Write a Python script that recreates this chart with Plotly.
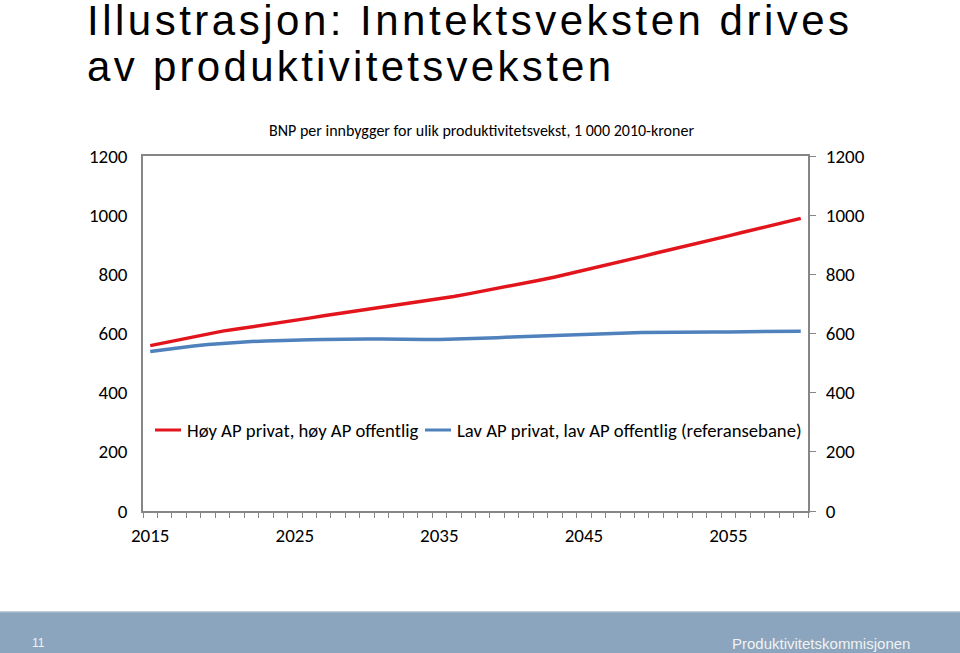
import plotly.graph_objects as go

years = list(range(2015, 2061))
high_ap = [559, 569, 579, 589, 599, 608, 615, 622, 630, 637,
           645, 652, 660, 667, 675, 682, 689, 695, 702, 709,
           717, 725, 734, 743, 752, 761, 771, 781, 791, 802,
           813, 825, 837, 848, 860, 872, 883, 895, 907, 918,
           930, 942, 954, 965, 977, 989]
low_ap = [539, 546, 552, 558, 563, 567, 570, 573, 575, 577,
          578, 579, 580, 581, 581, 581, 581, 580, 580, 580,
          580, 581, 582, 584, 586, 588, 590, 592, 594, 596,
          598, 600, 601, 602, 603, 604, 604, 604, 605, 605,
          605, 606, 606, 607, 607, 608]
series_names = ["Høy AP privat, høy AP offentlig",
                "Lav AP privat, lav AP offentlig (referansebane)"]
series_colors = ["#E3151C", "#4F81BD"]
x_labels = [2015, 2025, 2035, 2045, 2055]
y_ticks = [0, 200, 400, 600, 800, 1000, 1200]

W, H = 960, 653
L, R, T, B = 143, 808, 156, 511


def xp(px):
    return (px - L) / (R - L)


def yp(py):
    return (B - py) / (B - T)


NARROW = "Liberation Sans, Arial, sans-serif"
CAL = "Carlito, Calibri, Open Sans, sans-serif"

fig = go.Figure()
for vals, name, col in zip([high_ap, low_ap], series_names, series_colors):
    fig.add_trace(go.Scatter(x=years, y=vals, name=name, mode="lines",
                             line=dict(color=col, width=3.5), showlegend=False))
# invisible trace to activate the right-hand axis
fig.add_trace(go.Scatter(x=years, y=low_ap, yaxis="y2", mode="lines", opacity=0,
                         showlegend=False, hoverinfo="skip"))

axis_grey = "#868686"

# legend drawn inside the plot (short line samples as in the reference)
legend_shapes = []
legend_annots = []
for (sx, tx), name, col in zip([(155, 185), (425, 455)], series_names, series_colors):
    legend_shapes.append(dict(type="line", xref="paper", yref="paper",
                              x0=xp(sx), x1=xp(sx + 26), y0=yp(430), y1=yp(430),
                              line=dict(color=col, width=3)))
    legend_annots.append(dict(text=name, xref="paper", yref="paper", x=xp(tx), y=yp(430),
                              xanchor="left", yanchor="middle", showarrow=False,
                              font=dict(family=CAL, size=18.7, color="black")))

fig.update_layout(
    width=W, height=H,
    margin=dict(l=L, r=W - R, t=T, b=H - B),
    paper_bgcolor="white", plot_bgcolor="white",
    showlegend=False,
    xaxis=dict(range=[2014.5, 2060.5], tickvals=x_labels, ticktext=[str(v) for v in x_labels],
               ticks="", showgrid=False, zeroline=False,
               showline=True, linecolor=axis_grey, linewidth=1.5, mirror=True,
               tickfont=dict(family=CAL, size=19, color="black"), ticklabelstandoff=6,
               minor=dict(tickvals=[y + 0.5 for y in range(2014, 2061)], ticks="outside",
                          ticklen=5, tickcolor=axis_grey, tickwidth=1, showgrid=False)),
    yaxis=dict(range=[0, 1200], tickvals=y_ticks, ticks="", showgrid=False, zeroline=False,
               showline=True, linecolor=axis_grey, linewidth=1.5, mirror=True,
               tickfont=dict(family=CAL, size=19, color="black"), ticklabelstandoff=10),
    yaxis2=dict(range=[0, 1200], tickvals=y_ticks, overlaying="y", side="right",
                ticks="outside", ticklen=7, tickcolor=axis_grey, showgrid=False, zeroline=False,
                showline=False,
                tickfont=dict(family=CAL, size=19, color="black"), ticklabelstandoff=6),
    shapes=legend_shapes + [
        dict(type="rect", xref="paper", yref="paper", x0=xp(-5), x1=xp(W + 5),
             y0=yp(612), y1=yp(H + 5), fillcolor="#8AA5BD", line=dict(width=0), layer="above"),
        dict(type="line", xref="paper", yref="paper", x0=xp(-5), x1=xp(W + 5),
             y0=yp(612), y1=yp(612), line=dict(color="#A9BACB", width=1.5)),
    ],
    annotations=legend_annots + [
        dict(text="Illustrasjon: Inntektsveksten drives", xref="paper", yref="paper",
             x=xp(85), y=yp(20), xanchor="left", yanchor="middle", align="left", showarrow=False,
             font=dict(family=NARROW, size=42, color="black")),
        dict(text="av produktivitetsveksten", xref="paper", yref="paper",
             x=xp(85), y=yp(67), xanchor="left", yanchor="middle", align="left", showarrow=False,
             font=dict(family=NARROW, size=42, color="black")),
        dict(text="BNP per innbygger for ulik produktivitetsvekst, 1 000 2010-kroner",
             xref="paper", yref="paper", x=xp(481), y=yp(130), xanchor="center",
             yanchor="middle", showarrow=False, font=dict(family=CAL, size=16, color="black")),
        dict(text="11", xref="paper", yref="paper", x=xp(30), y=yp(643), xanchor="left",
             yanchor="middle", showarrow=False, font=dict(family=NARROW, size=12, color="#F2F2F2")),
        dict(text="Produktivitetskommisjonen", xref="paper", yref="paper", x=xp(912),
             y=yp(643), xanchor="right", yanchor="middle", showarrow=False,
             font=dict(family=NARROW, size=15, color="#F2F2F2")),
    ],
)

post = """
document.documentElement.style.margin='0';
document.body.style.margin='0';
document.body.style.padding='0';
document.body.style.overflow='hidden';
var gd=document.getElementById('{plot_id}');
gd.querySelectorAll('.annotation-text').forEach(function(t){
  var s=t.textContent;
  if(s.indexOf('Illustrasjon')===0){t.style.letterSpacing='3.5px';}
  if(s.indexOf('av produkt')===0){t.style.letterSpacing='3.3px';}
});
"""

fig.write_html("out.html", post_script=post, config={"displayModeBar": False})
